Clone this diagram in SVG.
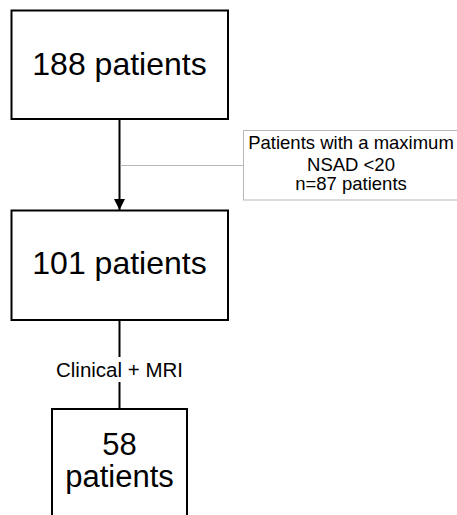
<svg xmlns="http://www.w3.org/2000/svg" width="457" height="515" viewBox="0 0 457 515">
  <defs>
    <style>
      .box { fill: #ffffff; stroke: #000000; stroke-width: 2; }
      .note { fill: #ffffff; stroke: #b8b8b8; stroke-width: 1; }
      .big { font-family: "Liberation Sans", Arial, sans-serif; font-size: 32px; fill: #000; text-anchor: middle; }
      .mid { font-family: "Liberation Sans", Arial, sans-serif; font-size: 31px; fill: #000; text-anchor: middle; }
      .small { font-family: "Liberation Sans", Arial, sans-serif; font-size: 18.5px; fill: #000; text-anchor: middle; }
      .lbl { font-family: "Liberation Sans", Arial, sans-serif; font-size: 20.5px; fill: #000; text-anchor: middle; }
      .conn { stroke: #000; stroke-width: 2; fill: none; }
      .thin { stroke: #b8b8b8; stroke-width: 1; fill: none; }
    </style>
    <marker id="arrow" markerWidth="11" markerHeight="12" refX="11" refY="5.5" orient="auto" markerUnits="userSpaceOnUse">
      <path d="M0,0 L11,5.5 L0,11 Z" fill="#000"/>
    </marker>
  </defs>
  <rect width="457" height="515" fill="#ffffff"/>
  <g id="connectors">
    <line class="conn" x1="119.5" y1="119" x2="119.5" y2="210" marker-end="url(#arrow)"/>
    <line class="thin" x1="120.5" y1="165.5" x2="243" y2="165.5"/>
    <line class="conn" x1="119.5" y1="320" x2="119.5" y2="357"/>
    <line class="conn" x1="119.5" y1="382" x2="119.5" y2="409"/>
    <text class="lbl" x="119.5" y="377">Clinical + MRI</text>
  </g>
  <g id="node-188">
    <rect class="box" x="11.5" y="10.5" width="216.5" height="108.5"/>
    <text class="big" x="119.5" y="75">188 patients</text>
  </g>
  <g id="node-excluded">
    <rect class="note" x="243.5" y="130.5" width="220" height="69.5"/>
    <text class="small" x="351" y="149">Patients with a maximum</text>
    <text class="small" x="351" y="171">NSAD &lt;20</text>
    <text class="small" x="351" y="190">n=87 patients</text>
  </g>
  <g id="node-101">
    <rect class="box" x="11.5" y="210.5" width="216.5" height="109.5"/>
    <text class="big" x="119.5" y="274">101 patients</text>
  </g>
  <g id="node-58">
    <rect class="box" x="52" y="409" width="135" height="120"/>
    <text class="mid" x="119.5" y="455">58</text>
    <text class="mid" x="119.5" y="487">patients</text>
  </g>
</svg>
